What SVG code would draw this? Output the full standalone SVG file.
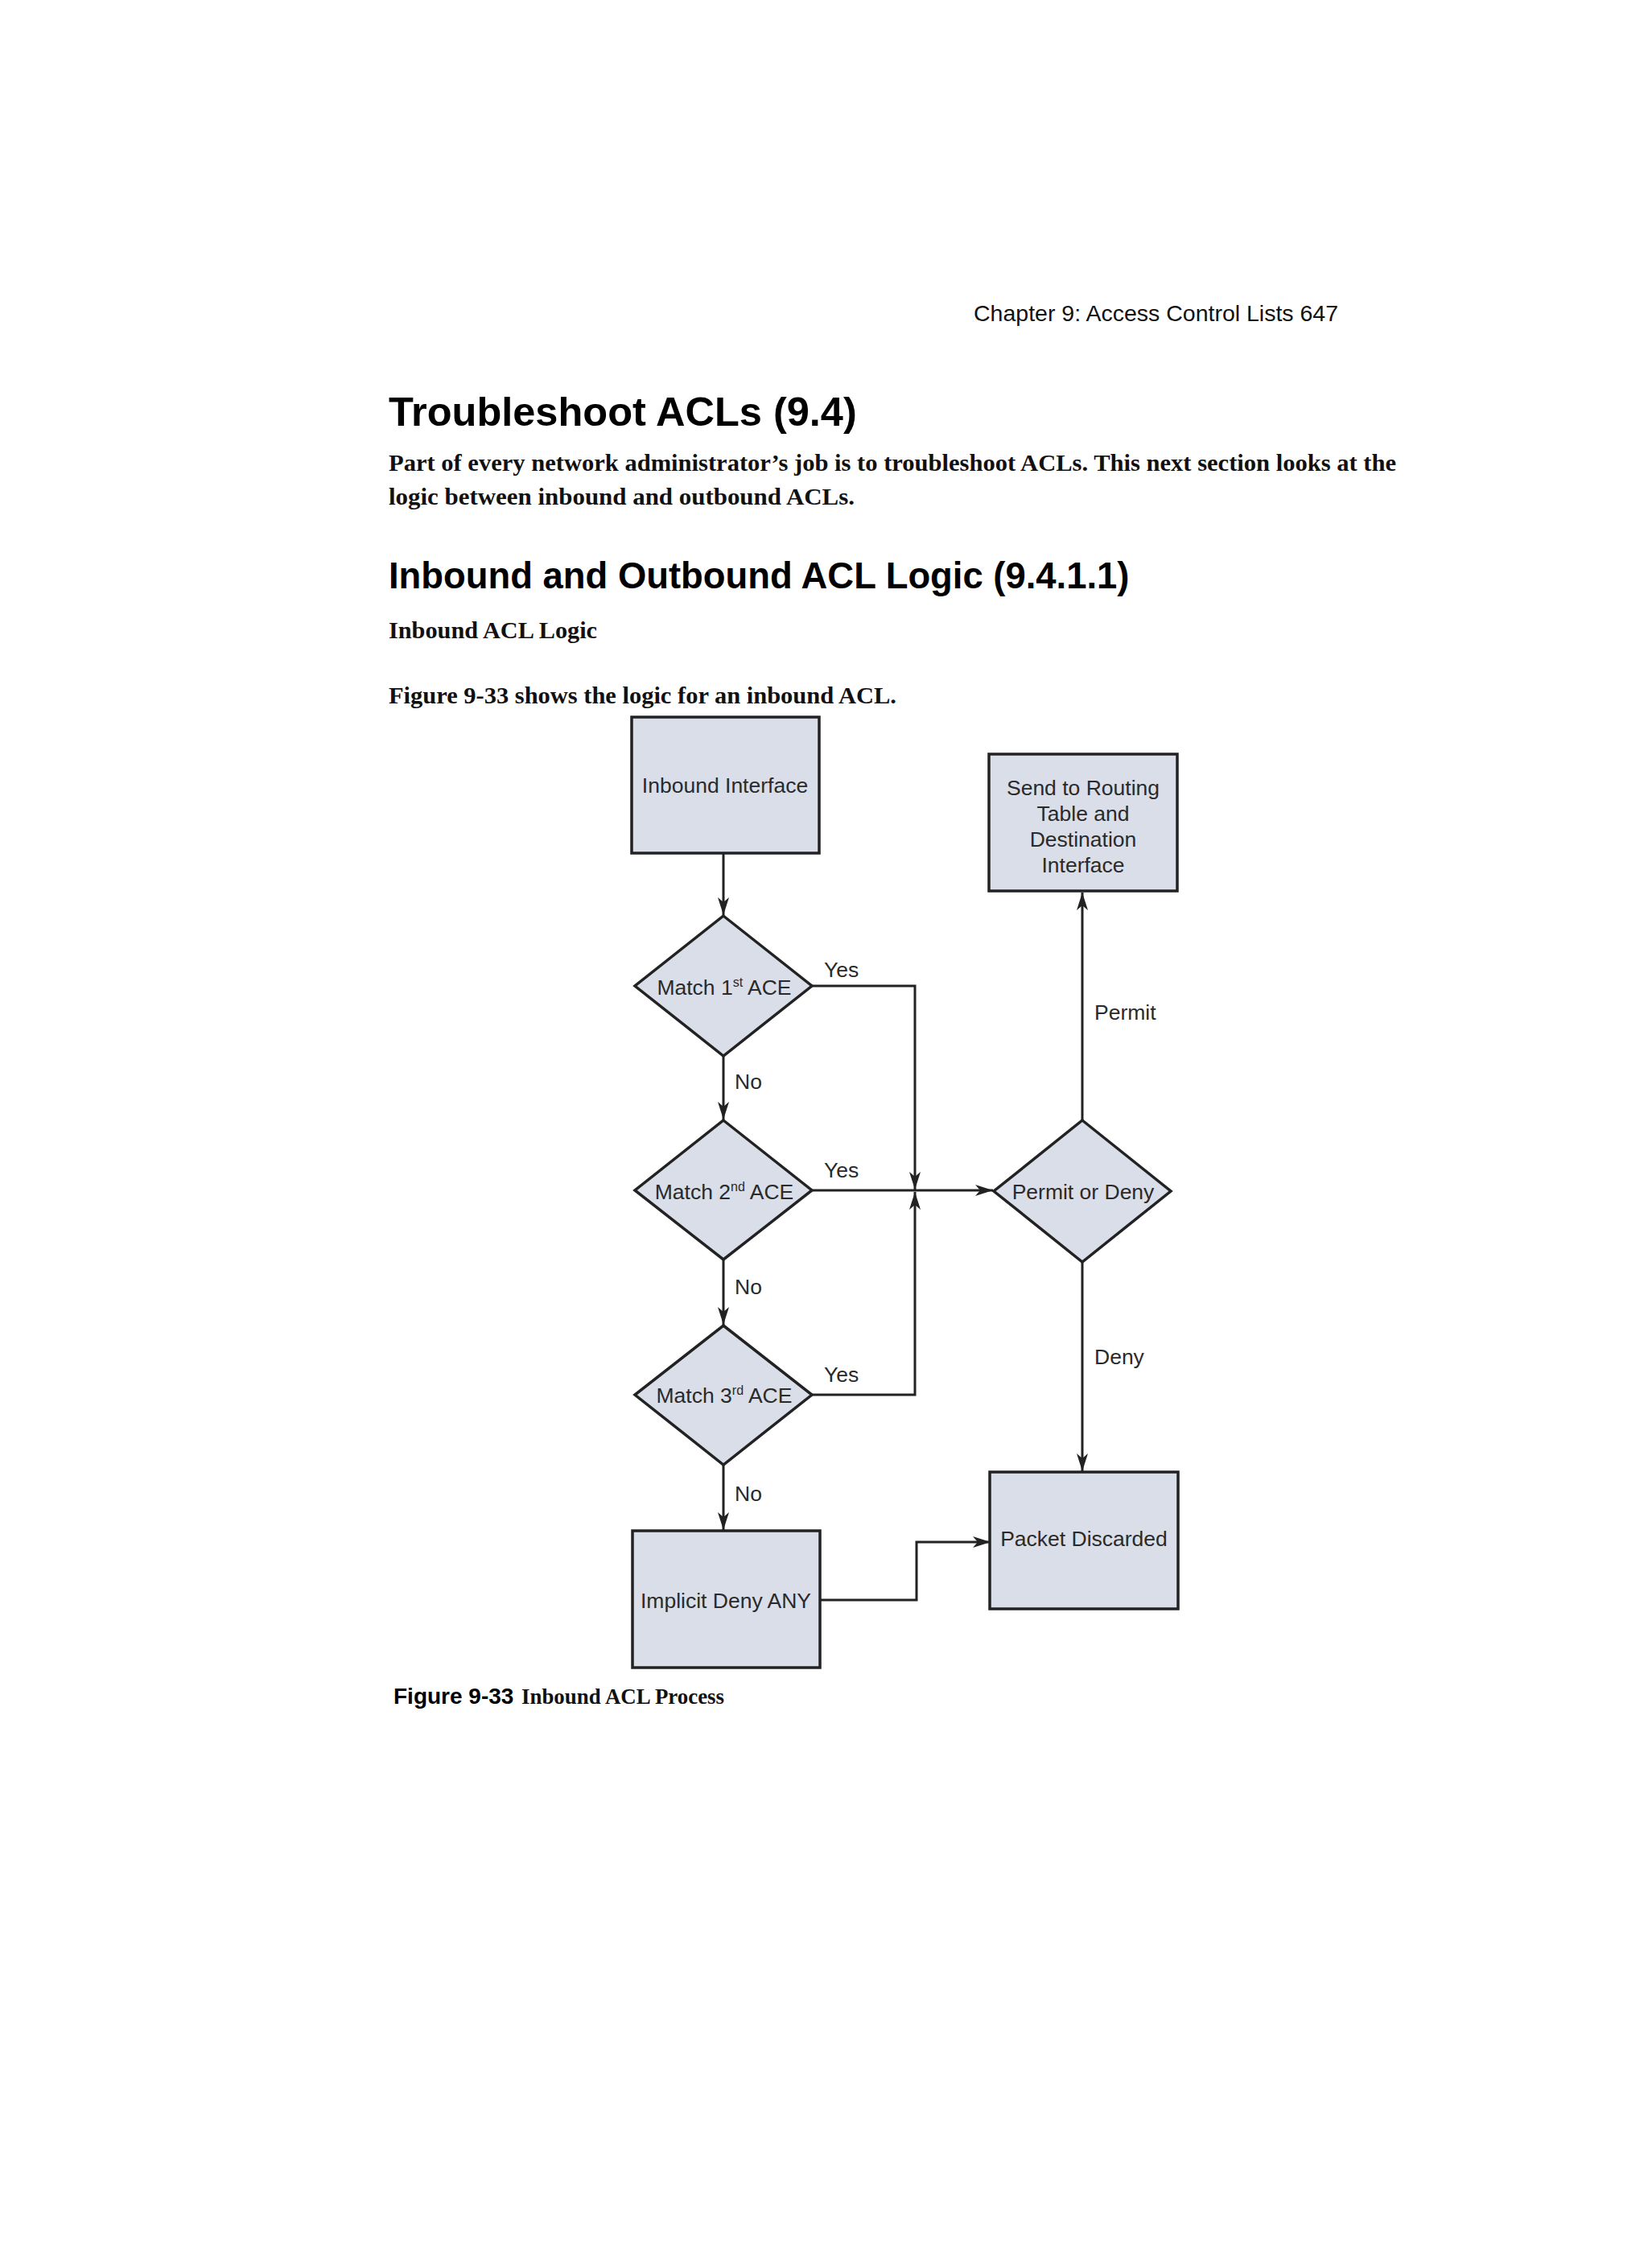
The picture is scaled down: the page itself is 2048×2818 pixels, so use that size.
<svg xmlns="http://www.w3.org/2000/svg" width="2048" height="2818" viewBox="0 0 2048 2818">
<style>
.hdr{font-family:"Liberation Sans",Arial,sans-serif;fill:#111}
.h1{font-family:"Liberation Sans",Arial,sans-serif;font-weight:bold;fill:#000}
.body{font-family:"Liberation Serif","Times New Roman",serif;font-weight:bold;fill:#111}
.box{fill:#d9dee9;stroke:#222;stroke-width:3.5}
.lbl{font-family:"Liberation Sans",Arial,sans-serif;font-size:26.5px;fill:#2a2a2a}
.c{text-anchor:middle}
.conn{fill:none;stroke:#222;stroke-width:3}
</style>
<defs>
<marker id="arr" viewBox="0 0 22 14" refX="22" refY="7" markerWidth="22" markerHeight="14" markerUnits="userSpaceOnUse" orient="auto">
<path d="M0,0 L22,7 L0,14 L6,7 Z" fill="#222"/>
</marker>
</defs>
<rect width="2048" height="2818" fill="#fff"/>

<g id="page-text">
<text class="hdr" x="1210" y="399" font-size="28.5">Chapter 9: Access Control Lists 647</text>
<text class="h1" x="483" y="529" font-size="50.5">Troubleshoot ACLs (9.4)</text>
<text class="body" x="483" y="585" font-size="30" textLength="1252" lengthAdjust="spacingAndGlyphs">Part of every network administrator’s job is to troubleshoot ACLs. This next section looks at the</text>
<text class="body" x="483" y="627" font-size="30" textLength="579" lengthAdjust="spacingAndGlyphs">logic between inbound and outbound ACLs.</text>
<text class="h1" x="483" y="731" font-size="45.4">Inbound and Outbound ACL Logic (9.4.1.1)</text>
<text class="body" x="483" y="793" font-size="30" textLength="259" lengthAdjust="spacingAndGlyphs">Inbound ACL Logic</text>
<text class="body" x="483" y="874" font-size="30" textLength="631" lengthAdjust="spacingAndGlyphs">Figure 9-33 shows the logic for an inbound ACL.</text>
<text x="489" y="2117"><tspan class="h1" font-size="28">Figure 9-33</tspan><tspan class="body" x="648" font-size="28" textLength="252" lengthAdjust="spacingAndGlyphs">Inbound ACL Process</tspan></text>
</g>

<g id="connectors">
<line class="conn" x1="899" y1="1060" x2="899" y2="1137" marker-end="url(#arr)"/>
<line class="conn" x1="899" y1="1312" x2="899" y2="1391" marker-end="url(#arr)"/>
<line class="conn" x1="899" y1="1565" x2="899" y2="1646" marker-end="url(#arr)"/>
<line class="conn" x1="899" y1="1820" x2="899" y2="1901" marker-end="url(#arr)"/>
<polyline class="conn" points="1009,1225 1137,1225 1137,1478" marker-end="url(#arr)"/>
<line class="conn" x1="1009" y1="1479" x2="1234" y2="1479" marker-end="url(#arr)"/>
<polyline class="conn" points="1009,1733 1137,1733 1137,1481" marker-end="url(#arr)"/>
<line class="conn" x1="1345" y1="1392" x2="1345" y2="1109" marker-end="url(#arr)"/>
<line class="conn" x1="1345" y1="1568" x2="1345" y2="1828" marker-end="url(#arr)"/>
<polyline class="conn" points="1019,1988 1139,1988 1139,1916 1231,1916" marker-end="url(#arr)"/>
<text class="lbl" x="1024" y="1214">Yes</text>
<text class="lbl" x="1024" y="1463">Yes</text>
<text class="lbl" x="1024" y="1717">Yes</text>
<text class="lbl" x="913" y="1353">No</text>
<text class="lbl" x="913" y="1608">No</text>
<text class="lbl" x="913" y="1865">No</text>
<text class="lbl" x="1360" y="1267">Permit</text>
<text class="lbl" x="1360" y="1695">Deny</text>
</g>

<g id="inbound-interface">
<rect class="box" x="785" y="891" width="233" height="169"/>
<text class="lbl c" x="901" y="985">Inbound Interface</text>
</g>

<g id="send-to-routing">
<rect class="box" x="1229" y="937" width="234" height="170"/>
<text class="lbl c" x="1346" y="988">Send to Routing</text>
<text class="lbl c" x="1346" y="1020">Table and</text>
<text class="lbl c" x="1346" y="1052">Destination</text>
<text class="lbl c" x="1346" y="1084">Interface</text>
</g>

<g id="match-1st">
<polygon class="box" points="899,1138 1009,1225 899,1312 789,1225"/>
<text class="lbl c" x="900" y="1236">Match 1<tspan font-size="16" dy="-10">st</tspan><tspan dy="10"> ACE</tspan></text>
</g>

<g id="match-2nd">
<polygon class="box" points="899,1392 1009,1479 899,1565 789,1479"/>
<text class="lbl c" x="900" y="1490">Match 2<tspan font-size="16" dy="-10">nd</tspan><tspan dy="10"> ACE</tspan></text>
</g>

<g id="match-3rd">
<polygon class="box" points="899,1647 1009,1733 899,1820 789,1733"/>
<text class="lbl c" x="900" y="1743">Match 3<tspan font-size="16" dy="-10">rd</tspan><tspan dy="10"> ACE</tspan></text>
</g>

<g id="permit-or-deny">
<polygon class="box" points="1345,1392 1455,1480 1345,1568 1235,1480"/>
<text class="lbl c" x="1346" y="1490">Permit or Deny</text>
</g>

<g id="packet-discarded">
<rect class="box" x="1230" y="1829" width="234" height="170"/>
<text class="lbl c" x="1347" y="1921">Packet Discarded</text>
</g>

<g id="implicit-deny">
<rect class="box" x="786" y="1902" width="233" height="170"/>
<text class="lbl c" x="902" y="1998">Implicit Deny ANY</text>
</g>
</svg>
